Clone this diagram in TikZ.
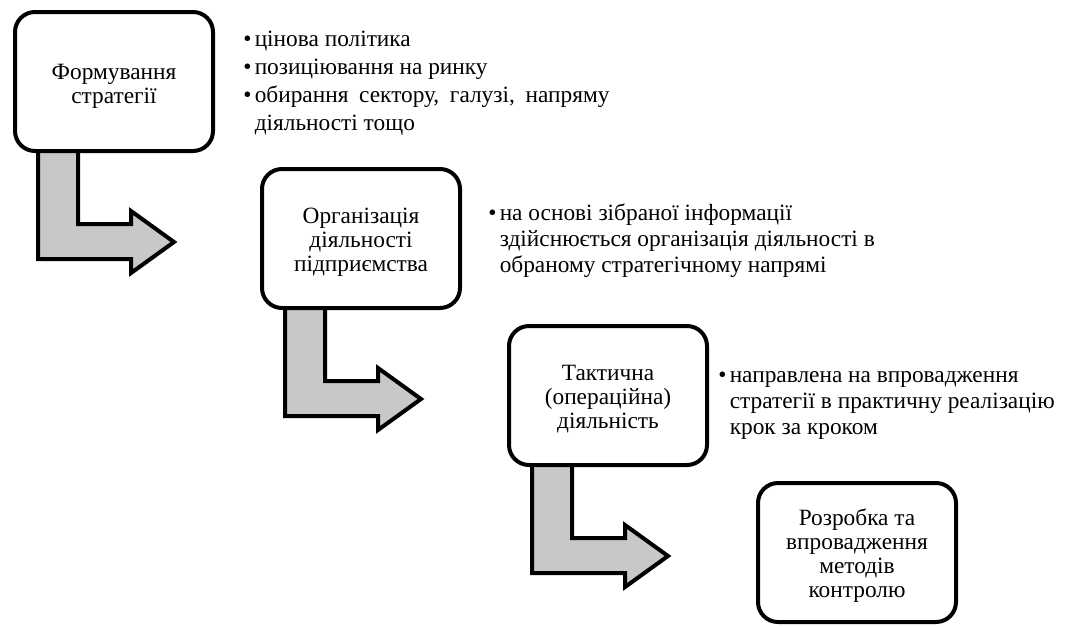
\documentclass[tikz,border=0pt]{standalone}
\usepackage{fontspec}
\setmainfont{Liberation Serif}
\usetikzlibrary{calc,backgrounds}
\definecolor{arrowgray}{RGB}{200,200,200}
\begin{document}
\begin{tikzpicture}[x=0.75pt,y=-0.75pt,
  box/.style={draw, line width=3pt, fill=white, rounded corners=15pt,
    minimum width=148.5pt, minimum height=104.25pt, inner sep=0pt},
  boxtext/.style={align=center, inner sep=0pt,
    font=\fontsize{17.5}{18}\selectfont},
  flow/.style={draw, line width=3pt, fill=arrowgray, miter limit=10},
  bullets/.style={anchor=base west, inner sep=0pt, align=left}]
\useasboundingbox (0,0) rectangle (1074,626);

\node[box] (b1) at (114,81.5) {};
\node[box] (b2) at (361,238.5) {};
\node[box] (b3) at (608,395.5) {};
\node[box] (b4) at (857,552.5) {};

\node[boxtext] (b1t) at ($(b1)+(0,5)$) {Формування\\стратегії};
\node[boxtext] (b2t) at ($(b2)+(0,4)$) {Організація\\діяльності\\підприємства};
\node[boxtext] (b3t) at ($(b3)+(0,4)$) {Тактична\\(операційна)\\діяльність};
\node[boxtext] (b4t) at ($(b4)+(0,3)$) {Розробка та\\впровадження\\методів\\контролю};

\begin{scope}[on background layer]
\foreach \a in {b1,b2,b3}{
  \draw[flow] ($(\a.south west)+(25,-5)$) -- ($(\a.south west)+(25,106)$)
    -- ($(\a.south west)+(118,106)$) -- ($(\a.south west)+(118,120)$)
    -- ($(\a.south west)+(161,89)$) -- ($(\a.south west)+(118,58)$)
    -- ($(\a.south west)+(118,71)$) -- ($(\a.south west)+(65,71)$)
    -- ($(\a.south west)+(65,-5)$) -- cycle;
}
\end{scope}

\node[bullets] (t1) at (243,46) {\fontsize{17.5}{21}\selectfont
  \begin{tabular}[t]{@{}l@{\hspace{2.5pt}}l@{}}
  •&цінова політика\\
  •&позиціювання на ринку\\
  •&{\spaceskip=8pt обирання сектору, галузі, напряму}\\
  &діяльності тощо
  \end{tabular}};
\node[bullets] (t2) at (488,220) {\fontsize{17.5}{19.5}\selectfont
  \begin{tabular}[t]{@{}l@{\hspace{2.5pt}}l@{}}
  •&на основі зібраної інформації\\
  &здійснюється організація діяльності в\\
  &обраному стратегічному напрямі
  \end{tabular}};
\node[bullets] (t3) at (718,382) {\fontsize{17.5}{19.5}\selectfont
  \begin{tabular}[t]{@{}l@{\hspace{2.5pt}}l@{}}
  •&направлена на впровадження\\
  &стратегії в практичну реалізацію\\
  &крок за кроком
  \end{tabular}};
\end{tikzpicture}
\end{document}
